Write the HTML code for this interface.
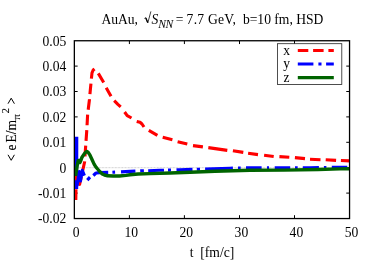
<!DOCTYPE html>
<html><head><meta charset="utf-8"><style>
html,body{margin:0;padding:0;background:#fff;}
svg{display:block;will-change:transform;font-family:"Liberation Serif",serif;font-size:13.6px;fill:#000;}
.t{opacity:0.999;}
</style></head><body>
<svg width="374" height="262" viewBox="0 0 374 262">
<rect width="374" height="262" fill="#fff"/>
<line x1="74.35" y1="167.7" x2="349.55" y2="167.7" stroke="#b8b8b8" stroke-width="0.8" stroke-dasharray="0.8 0.65"/>
<g stroke="#000" stroke-width="1"><line x1="129.4" y1="218.5" x2="129.4" y2="215.2"/><line x1="129.4" y1="40.75" x2="129.4" y2="44.05"/><line x1="184.4" y1="218.5" x2="184.4" y2="215.2"/><line x1="184.4" y1="40.75" x2="184.4" y2="44.05"/><line x1="239.5" y1="218.5" x2="239.5" y2="215.2"/><line x1="239.5" y1="40.75" x2="239.5" y2="44.05"/><line x1="294.5" y1="218.5" x2="294.5" y2="215.2"/><line x1="294.5" y1="40.75" x2="294.5" y2="44.05"/><line x1="74.35" y1="193.1" x2="77.64999999999999" y2="193.1"/><line x1="349.55" y1="193.1" x2="346.25" y2="193.1"/><line x1="74.35" y1="167.7" x2="77.64999999999999" y2="167.7"/><line x1="349.55" y1="167.7" x2="346.25" y2="167.7"/><line x1="74.35" y1="142.3" x2="77.64999999999999" y2="142.3"/><line x1="349.55" y1="142.3" x2="346.25" y2="142.3"/><line x1="74.35" y1="116.9" x2="77.64999999999999" y2="116.9"/><line x1="349.55" y1="116.9" x2="346.25" y2="116.9"/><line x1="74.35" y1="91.5" x2="77.64999999999999" y2="91.5"/><line x1="349.55" y1="91.5" x2="346.25" y2="91.5"/><line x1="74.35" y1="66.1" x2="77.64999999999999" y2="66.1"/><line x1="349.55" y1="66.1" x2="346.25" y2="66.1"/></g>
<g fill="none" stroke-width="3.1" stroke-linejoin="round">
<path d="M75.8,200.0 L76.2,175.6 L79.6,184.4 L82.8,170.0 L84.6,162.0 L85.4,150.0 L86.1,140.0 L86.8,130.0 L87.6,115.0 L88.4,108.0 L89.4,100.0 L89.9,94.5 L90.5,88.1 L91.4,78.7 L92.0,72.8 L93.2,70.0 L95.6,68.1" stroke="#ff0000" stroke-dasharray="10.7 4.9"/>
<path d="M98.3,73.4 L103.7,82.5 M106.2,87.7 L111.0,96.3 M114.2,100.6 L117.9,104.3 L120.7,106.8 M124.6,112.0 L127.2,115.6 L131.5,118.0 M136.7,121.5 L140.0,122.3 L142.0,124.0 L144.0,127.0 M148.8,130.4 L157.4,135.3 M162.7,137.2 L172.4,139.7 M177.6,141.7 L187.3,144.0 M193.0,145.6 L202.9,146.9 M208.3,147.6 L227.3,150.4 M232.9,150.7 L243.3,152.4 M248.1,153.3 L258.0,154.6 M264.1,155.2 L273.7,156.5 M279.4,156.6 L289.3,157.3 M294.9,157.6 L305.0,158.6 M310.0,159.3 L320.5,159.7 M325.7,159.8 L336.1,160.4 M340.9,160.5 L349.6,160.9" stroke="#ff0000"/>
<path d="M93.3,175.5 L96.0,173.0 L100.0,172.6 L108.2,172.4 M112.4,172.2 L115.1,172.1 M121.0,171.9 L135.4,171.1 M140.2,170.9 L143.9,170.8 M148.2,170.7 L160.0,170.3 L164.0,170.2 M168.0,170.1 L171.0,170.0 M176.5,169.8 L180.0,169.7 L192.5,169.4 M196.8,169.3 L200.0,169.2 M205.1,169.1 L230.0,168.2 L232.9,168.1 M238.0,168.0 L240.7,168.0 M246.0,167.9 L250.0,167.8 L261.6,167.8 M267.0,167.8 L269.1,167.7 M274.7,167.7 L284.0,167.7 L290.2,167.7 M295.0,167.7 L297.7,167.7 M302.8,167.7 L310.0,167.7 L318.9,167.6 M323.9,167.5 L326.4,167.5 M331.8,167.4 L340.0,167.3 L347.3,167.2 M87.3,180.1 L90.0,177.1" stroke="#0000ff"/>
<path d="M77.0,186.0 L79.3,171.5 L80.5,181.0 L82.3,170.3 L84.4,175.6" stroke="#0000ff"/>
<path d="M76.5,136.8 L76.45,175.3 M76.4,180.3 L76.4,189" stroke="#0000ff" stroke-width="3.6"/>
<path d="M75.6,176.0 L76.3,171.0 L77.3,165.0 L78.2,160.6 L79.0,160.4 L79.9,162.6 L80.7,160.8 L82.0,157.2 L84.4,153.6 L86.0,151.9 L87.0,151.5 L88.2,152.3 L90.0,155.2 L92.0,159.5 L94.1,164.1 L96.0,167.2 L98.0,169.5 L100.0,171.8 L102.3,173.9 L104.5,175.0 L107.6,175.8 L113.0,176.0 L119.4,176.0 L126.0,175.4 L130.0,174.8 L138.0,174.0 L150.0,173.6 L170.0,173.0 L190.0,172.2 L215.0,171.3 L250.0,170.3 L284.0,170.1 L318.0,169.5 L340.0,168.9 L349.6,168.8" stroke="#006400" stroke-width="3.4"/>
</g>
<g stroke="#000" stroke-width="1.3" fill="none">
<rect x="74.35" y="40.75" width="275.2" height="177.8"/>
</g>
<rect x="277.4" y="43.7" width="64.4" height="40.8" fill="#fff" stroke="#222" stroke-width="0.8"/>
<g fill="none" stroke-width="3.0">
<path d="M297.8,50.5 H333.8" stroke="#ff0000" stroke-dasharray="10.5 4.8"/>
<path d="M297.8,64.1 H333.8" stroke="#0000ff" stroke-dasharray="15.6 5 3.1 4.6"/>
<path d="M297.8,77.6 H333.8" stroke="#006400" stroke-width="3.3"/>
</g>
<g class="t">
<text x="101.4" y="23.9">AuAu,</text>
<g fill="none" stroke="#000" stroke-linejoin="miter"><path d="M144.4,18.5 L145.7,17.6 L147.8,22.9 L150.9,11.4" stroke-width="0.75"/><path d="M145.8,17.9 L147.7,22.6" stroke-width="1.3"/></g>
<text x="151.4" y="24" font-style="italic">S</text>
<text x="158.3" y="27.7" font-style="italic" font-size="11.6px" letter-spacing="-0.45">NN</text>
<text x="175.7" y="24.3">=</text><text x="186.6" y="23.9" letter-spacing="0.24">7.7 GeV,</text><text x="242.9" y="23.9">b=10 fm, HSD</text>
<text x="76.2" y="236.7" text-anchor="middle">0</text><text x="131.3" y="236.7" text-anchor="middle">10</text><text x="186.3" y="236.7" text-anchor="middle">20</text><text x="241.4" y="236.7" text-anchor="middle">30</text><text x="296.4" y="236.7" text-anchor="middle">40</text><text x="351.5" y="236.7" text-anchor="middle">50</text>
<text x="66.3" y="223.3" text-anchor="end">-0.02</text><text x="66.3" y="197.9" text-anchor="end">-0.01</text><text x="66.3" y="172.5" text-anchor="end">0</text><text x="66.3" y="147.1" text-anchor="end">0.01</text><text x="66.3" y="121.7" text-anchor="end">0.02</text><text x="66.3" y="96.3" text-anchor="end">0.03</text><text x="66.3" y="70.9" text-anchor="end">0.04</text><text x="66.3" y="45.5" text-anchor="end">0.05</text>
<text x="283.2" y="54.6">x</text><text x="283.2" y="68">y</text><text x="283.6" y="81.5">z</text>
<text x="189.7" y="256.8" xml:space="preserve">t  [fm/c]</text>
<g stroke="#000" stroke-width="0.12"><text transform="translate(15.8,150.5) rotate(-90)">e</text>
<text transform="translate(15.8,142.6) rotate(-90)">E/m</text>
<text transform="translate(19.9,119.8) rotate(-90)" font-size="10.9px">π</text>
<text transform="translate(8.5,113.6) rotate(-90)" font-size="10.9px">2</text></g>
<g fill="none" stroke="#000" stroke-width="1"><path d="M8,154.8 L11.2,160.3 L14.4,154.8"/><path d="M8,103.7 L11.2,98.2 L14.4,103.7"/></g>
</g>
</svg>
</body></html>
